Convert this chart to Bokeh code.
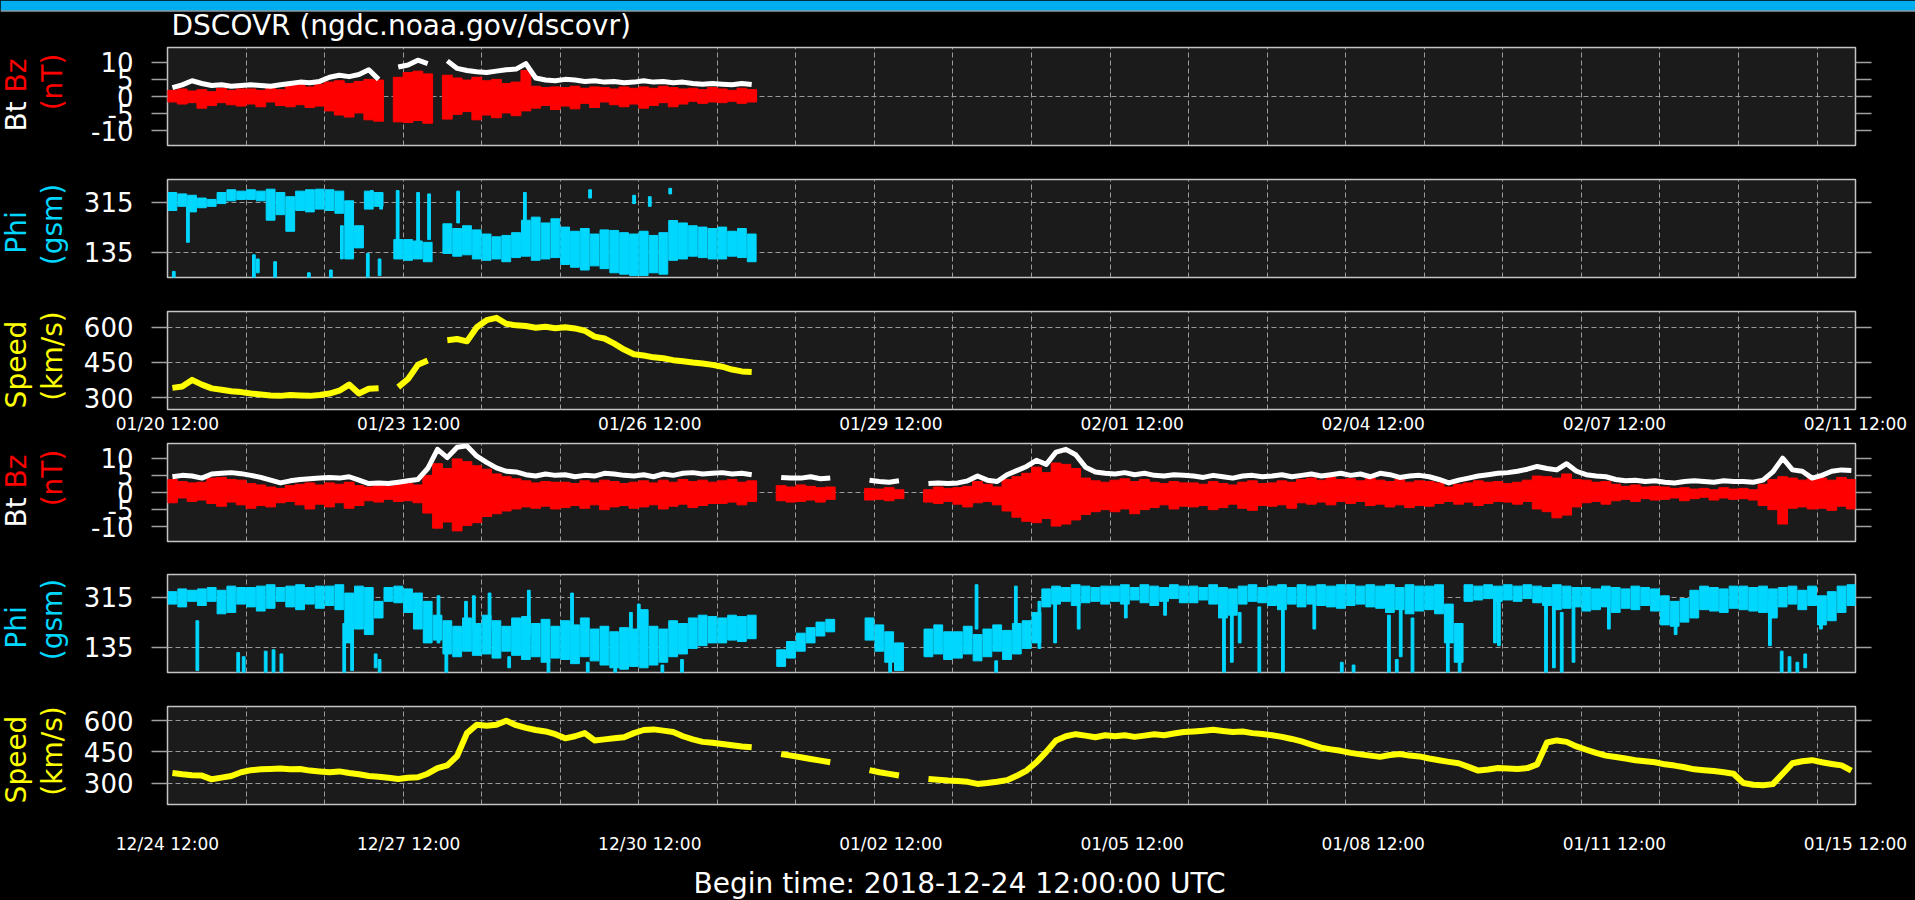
import math
from bokeh.plotting import figure
from bokeh.layouts import column, row
from bokeh.models import Range1d, FixedTicker, LinearAxis, ColumnDataSource
from bokeh.core.properties import value
from bokeh.embed import file_html
from bokeh.resources import INLINE

# ------------------------------------------------------------------ data
# 3-hour sample bins; None = data gap
BIN_DAYS = 0.125

# ---- lower block: begin 2018-12-24 12:00 UTC
bt_dec = [
    4.6, 5.0, 4.8, 4.2, 5.4, 5.6, 5.8, 5.5,
    5.0, 4.4, 3.6, 2.8, 3.4, 3.8, 4.0, 4.2,
    4.4, 4.2, 4.6, 3.6, 2.6, 2.8, 2.6, 3.0,
    3.4, 3.8, 7.0, 12.6, 10.2, 13.2, 13.6, 10.6,
    8.8, 7.2, 6.2, 6.0, 5.2, 4.8, 5.4, 5.0,
    5.2, 4.6, 5.0, 4.8, 5.6, 5.4, 5.0, 4.8,
    5.2, 4.6, 5.4, 5.0, 5.6, 5.8, 5.4, 5.6,
    5.8, 5.4, 5.6, 5.2, None, None, 4.4, 4.2,
    4.2, 4.6, 4.0, 4.2, None, None, None, 3.6,
    3.2, 3.0, 3.4, None, None, 2.6, 2.8, 2.6,
    2.8, 3.4, 4.8, 3.6, 3.2, 5.2, 6.4, 7.6,
    9.4, 8.2, 11.8, 12.6, 11.0, 7.4, 6.0, 5.6,
    5.4, 5.8, 5.2, 5.6, 5.0, 4.8, 5.2, 5.0,
    4.8, 4.4, 5.0, 4.6, 4.2, 4.8, 5.0, 4.6,
    4.8, 5.2, 4.6, 5.0, 5.4, 4.8, 5.2, 5.6,
    5.0, 5.4, 4.6, 5.6, 5.2, 4.4, 4.8, 5.0,
    4.6, 3.8, 2.8, 3.6, 4.2, 4.8, 5.2, 5.6,
    5.8, 6.2, 6.8, 7.6, 7.0, 6.6, 8.4, 6.2,
    5.2, 4.8, 4.6, 3.8, 3.4, 3.6, 3.2, 3.4,
    3.0, 2.8, 3.2, 3.4, 3.2, 3.0, 3.4, 3.2,
    3.2, 3.0, 3.6, 6.0, 10.0, 6.6, 6.2, 4.2,
    5.0, 6.2, 6.6, 6.4,
]
bz_hi_dec = [
    3.8, 3.2, 2.8, 3.0, 4.2, 4.4, 3.8, 3.6,
    2.6, 2.2, 1.6, 1.2, 2.0, 2.4, 2.8, 2.2,
    2.8, 2.4, 3.0, 2.0, 1.6, 2.2, 1.8, 2.4,
    2.6, 2.2, 5.0, 8.4, 7.0, 9.8, 9.0, 7.8,
    6.8, 5.4, 4.6, 4.0, 3.4, 2.8, 3.2, 3.0,
    3.0, 2.6, 3.4, 2.8, 3.6, 3.2, 2.6, 3.0,
    3.4, 2.8, 3.6, 3.0, 3.8, 3.2, 3.6, 3.0,
    3.4, 3.8, 3.0, 3.4, None, None, 2.0, 1.6,
    2.2, 1.8, 1.4, 1.6, None, None, None, 1.2,
    1.0, 1.4, 0.8, None, None, 0.8, 1.6, 1.2,
    1.4, 1.8, 3.2, 2.4, 1.6, 3.8, 4.6, 5.6,
    7.4, 5.8, 8.6, 8.2, 7.0, 4.2, 3.4, 3.0,
    3.6, 4.0, 3.2, 3.8, 3.0, 2.6, 3.2, 2.8,
    2.8, 2.4, 3.2, 2.6, 2.2, 3.0, 3.4, 2.6,
    2.8, 3.4, 3.0, 3.8, 4.2, 3.6, 4.4, 3.8,
    4.0, 3.4, 4.2, 3.6, 3.2, 3.8, 3.0, 3.4,
    3.2, 2.8, 1.6, 2.4, 2.8, 3.4, 3.0, 3.2,
    2.6, 3.0, 3.6, 4.8, 4.6, 4.2, 5.4, 3.8,
    3.6, 3.0, 3.2, 2.4, 1.8, 2.2, 1.6, 1.8,
    1.6, 1.2, 1.4, 1.0, 1.2, 0.8, 1.4, 1.0,
    1.2, 0.8, 2.4, 3.8, 4.6, 4.2, 3.6, 4.0,
    4.2, 3.6, 4.4, 3.8,
]
bz_lo_dec = [
    -3.0, -1.6, -2.6, -2.2, -3.2, -4.0, -2.8, -3.6,
    -4.6, -3.8, -4.2, -3.0, -2.6, -3.6, -4.8, -3.4,
    -4.2, -3.0, -4.6, -3.8, -2.4, -2.8, -2.0, -2.6,
    -2.4, -3.0, -6.0, -10.4, -8.6, -11.2, -9.6, -8.8,
    -7.0, -6.2, -5.4, -4.8, -4.2, -4.6, -4.0, -4.8,
    -4.4, -3.8, -4.6, -3.6, -5.0, -4.2, -3.8, -4.6,
    -4.2, -3.6, -4.8, -4.0, -3.4, -4.4, -3.8, -3.2,
    -3.2, -2.8, -3.6, -2.6, None, None, -2.4, -2.8,
    -2.6, -2.2, -2.8, -2.0, None, None, None, -2.2,
    -2.0, -2.4, -1.8, None, None, -2.8, -3.2, -2.6,
    -3.4, -4.2, -3.0, -2.6, -3.6, -5.4, -7.2, -8.4,
    -8.8, -7.6, -9.8, -9.2, -8.0, -6.4, -5.6, -5.0,
    -5.6, -4.8, -6.2, -5.0, -4.4, -3.6, -4.8, -4.0,
    -4.2, -3.8, -5.0, -4.4, -3.4, -4.6, -5.2, -3.8,
    -4.0, -3.6, -4.6, -3.0, -3.4, -2.8, -3.6, -2.6,
    -3.2, -2.6, -3.8, -3.4, -4.2, -3.6, -4.4, -3.8,
    -4.0, -3.2, -2.6, -3.4, -2.8, -3.8, -3.2, -2.6,
    -2.8, -3.4, -2.6, -4.8, -5.6, -7.4, -6.6, -4.2,
    -3.0, -2.6, -3.4, -2.4, -2.0, -2.6, -1.8, -2.2,
    -2.0, -1.6, -2.4, -1.8, -1.4, -2.2, -1.6, -2.0,
    -1.8, -2.2, -3.8, -5.0, -9.2, -4.6, -4.2, -4.8,
    -4.6, -5.2, -4.0, -4.8,
]
phi_lo_dec = [
    290, 280, 300, 285, 300, 255, 260, 290,
    280, 265, 275, 300, 280, 270, 290, 275,
    285, 270, 150, 200, 180, 240, 300, 295,
    260, 200, 150, 160, 110, 100, 120, 105,
    110, 95, 120, 105, 90, 100, 80, 95,
    90, 75, 100, 85, 70, 60, 55, 65,
    60, 70, 80, 100, 110, 130, 140, 150,
    150, 160, 155, 165, None, None, 65, 95,
    120, 150, 175, 190, None, None, None, 160,
    120, 80, 50, None, None, 100, 110, 90,
    95, 110, 85, 100, 120, 90, 110, 130,
    150, 280, 290, 300, 285, 295, 300, 290,
    300, 290, 305, 295, 285, 300, 310, 295,
    295, 305, 290, 240, 250, 290, 300, 295,
    285, 270, 290, 280, 290, 285, 280, 275,
    285, 290, 280, 275, 260, 270, 255, 265,
    270, 255, 150, 80, 300, 305, 310, 300,
    305, 300, 310, 295, 285, 270, 275, 280,
    265, 270, 280, 260, 275, 270, 285, 265,
    215, 210, 225, 240, 270, 265, 260, 275,
    270, 265, 260, 240, 280, 290, 270, 285,
    215, 230, 260, 285,
]
phi_hi_dec = [
    335, 345, 340, 345, 350, 340, 355, 350,
    350, 355, 360, 350, 355, 360, 350, 355,
    355, 360, 330, 355, 350, 300, 350, 355,
    345, 330, 300, 250, 230, 210, 240, 220,
    250, 230, 210, 240, 245, 220, 235, 210,
    230, 215, 240, 200, 210, 190, 205, 200,
    270, 210, 200, 230, 220, 240, 250, 245,
    240, 250, 245, 250, None, None, 125, 155,
    185, 205, 225, 235, None, None, None, 240,
    215, 190, 150, None, None, 200, 215, 190,
    190, 210, 180, 200, 215, 195, 220, 230,
    260, 345, 355, 350, 360, 355, 350, 355,
    355, 360, 350, 360, 355, 350, 360, 355,
    355, 350, 360, 350, 345, 355, 360, 350,
    355, 360, 350, 360, 355, 360, 355, 360,
    360, 355, 360, 355, 360, 350, 360, 355,
    355, 360, 290, 220, 360, 355, 360, 355,
    360, 355, 360, 355, 350, 360, 355, 350,
    350, 345, 355, 350, 345, 355, 350, 345,
    320, 300, 310, 340, 355, 350, 345, 355,
    355, 350, 355, 345, 350, 355, 340, 355,
    320, 335, 355, 360,
]
phi_streak_day_dec = [0.38, 0.9, 0.97, 1.25, 1.35, 1.45, 2.25, 2.35, 2.65, 2.7, 3.45, 3.55,
                      3.8, 3.9, 4.1, 4.35, 4.6, 4.85, 5.15, 5.35, 5.7, 5.9, 6.0, 6.3, 6.55,
                      9.2, 10.3, 10.55, 10.8, 11.1, 11.3, 11.6, 12.2, 12.7, 13.45, 13.55,
                      13.65, 13.9, 14.2, 14.6, 14.95, 15.1, 15.55, 15.65, 15.7, 15.85,
                      16.3, 16.45, 16.9, 16.95, 17.55, 17.65, 17.75, 17.9, 18.35, 19.2,
                      20.4, 20.55, 20.65, 20.75, 20.85, 21.05]
phi_streak_lo_dec = [50, 40, 40, 40, 40, 40, 40, 50, 60, 40, 150, 40,
                     150, 200, 200, 60, 180, 40, 200, 40, 40, 160, 200, 40, 40,
                     40, 200, 40, 210, 130, 150, 200, 240, 250, 40, 80,
                     150, 40, 40, 200, 40, 40, 40, 40, 100, 40,
                     40, 40, 150, 140, 40, 60, 40, 80, 200, 180,
                     140, 40, 40, 40, 60, 200]
phi_streak_hi_dec = [230, 115, 100, 120, 125, 110, 220, 180, 110, 90, 320, 110,
                     300, 320, 330, 100, 340, 90, 330, 80, 70, 260, 290, 70, 90,
                     80, 360, 85, 355, 300, 290, 300, 300, 300, 300, 290,
                     260, 280, 270, 290, 80, 70, 250, 90, 270, 240,
                     200, 150, 320, 300, 300, 280, 260, 300, 280, 260,
                     300, 120, 100, 80, 110, 260]
speed_dec = [
    348, 342, 338, 336, 318, 326, 334, 352,
    362, 366, 368, 370, 366, 368, 360, 356,
    352, 356, 348, 342, 334, 330, 326, 320,
    326, 328, 345, 372, 385, 430, 540, 580,
    575, 580, 600, 578, 565, 555, 548, 535,
    515, 525, 540, 505, 510, 515, 520, 540,
    555, 558, 552, 545, 525, 510, 498, 494,
    488, 482, 476, 472, None, None, 440, 432,
    424, 416, 408, 400, None, None, None, 362,
    352, 344, 336, None, None, 320, 316, 312,
    310, 306, 296, 300, 306, 314, 335, 360,
    400, 450, 505, 525, 535, 528, 520, 530,
    525, 530, 522, 528, 535, 530, 538, 545,
    548, 552, 556, 550, 545, 548, 540, 536,
    530, 522, 512, 500, 485, 470, 462, 455,
    445, 438, 432, 426, 435, 440, 432, 428,
    418, 410, 402, 395, 378, 360, 365, 372,
    370, 368, 372, 390, 495, 505, 498, 476,
    460, 445, 432, 425, 418, 410, 405, 400,
    390, 384, 376, 366, 362, 358, 352, 345,
    300, 292, 290, 295, 345, 395, 405, 410,
    400, 392, 385, 360,
]

# ---- upper block: begin 2019-01-20 12:00 UTC
bt_jan = [
    2.6, 3.4, 4.6, 3.8, 3.2, 3.4, 3.0, 3.2,
    3.4, 3.2, 3.0, 3.4, 3.8, 4.2, 4.0, 4.4,
    5.6, 6.2, 5.8, 6.4, 7.8, 5.0, None, 8.6,
    9.2, 10.6, 9.6, None, 10.4, 8.2, 7.6, 7.2,
    7.0, 7.4, 7.8, 8.0, 9.6, 5.4, 4.8, 4.6,
    5.0, 4.8, 4.4, 4.6, 4.2, 4.4, 4.0, 4.2,
    4.6, 4.2, 4.4, 4.0, 4.2, 3.8, 3.6, 3.8,
    3.6, 3.4, 3.8, 3.5,
]
bz_hi_jan = [
    1.8, 2.2, 1.6, 2.0, 1.4, 2.4, 1.8, 2.2,
    2.2, 1.8, 2.4, 2.0, 3.2, 3.4, 2.8, 3.6,
    4.2, 4.6, 3.8, 4.4, 5.0, 4.8, None, 5.6,
    7.0, 7.4, 6.6, None, 6.2, 5.4, 4.8, 5.6,
    4.6, 5.0, 3.8, 4.2, 7.6, 3.0, 2.6, 2.8,
    2.6, 3.0, 2.4, 2.8, 2.6, 2.2, 2.8, 2.4,
    2.8, 2.4, 3.0, 2.6, 2.2, 2.4, 2.0, 2.6,
    2.2, 1.8, 2.4, 2.0,
]
bz_lo_jan = [
    -1.6, -2.2, -1.8, -3.4, -2.6, -1.8, -2.4, -2.8,
    -2.2, -3.0, -1.6, -2.6, -3.0, -2.4, -3.2, -2.8,
    -4.2, -5.4, -6.0, -4.8, -6.8, -7.2, None, -7.4,
    -7.6, -7.0, -7.8, None, -6.6, -5.2, -4.4, -6.8,
    -5.4, -6.2, -4.8, -5.6, -4.2, -3.4, -2.6, -3.8,
    -2.8, -3.6, -2.0, -3.2, -1.6, -2.4, -3.0, -2.2,
    -3.4, -2.6, -1.8, -3.0, -2.2, -1.4, -2.0, -1.6,
    -1.8, -1.4, -2.0, -1.6,
]
phi_lo_jan = [
    285, 300, 280, 295, 300, 310, 320, 325,
    325, 320, 250, 270, 210, 285, 280, 290,
    285, 275, 110, 150, 290, 300, None, 110,
    105, 110, 100, None, 130, 120, 125, 110,
    105, 110, 100, 115, 120, 105, 110, 115,
    90, 80, 70, 85, 75, 60, 55, 50,
    50, 60, 55, 105, 110, 120, 115, 110,
    110, 120, 115, 100,
]
phi_hi_jan = [
    350, 345, 340, 330, 325, 350, 360, 355,
    360, 355, 362, 350, 335, 355, 360, 362,
    360, 355, 320, 230, 355, 350, None, 180,
    180, 175, 170, None, 237, 220, 230, 215,
    200, 190, 195, 205, 250, 261, 240, 255,
    225, 210, 220, 200, 215, 213, 205, 200,
    210, 195, 205, 249, 240, 230, 225, 220,
    225, 210, 220, 200,
]
phi_streak_day_jan = [0.08, 0.26, 1.1, 1.15, 1.37, 1.8, 2.08, 2.22, 2.3, 2.55, 2.6, 2.7,
                      2.72, 2.93, 3.19, 3.33, 3.7, 4.55, 5.38, 5.94, 6.14, 6.4]
phi_streak_lo_jan = [40, 170, 40, 60, 40, 40, 40, 110, 120, 40, 300, 50,
                     290, 180, 120, 180, 240, 250, 330, 310, 300, 345]
phi_streak_hi_jan = [65, 300, 125, 110, 100, 60, 70, 230, 260, 130, 357, 110,
                     345, 357, 350, 345, 355, 350, 360, 340, 335, 365]
speed_jan = [
    342, 348, 376, 356, 340, 334, 328, 324,
    318, 314, 310, 308, 312, 310, 308, 312,
    318, 330, 356, 318, 338, 340, None, 345,
    380, 440, 458, None, 545, 550, 540, 600,
    630, 640, 615, 608, 605, 598, 602, 596,
    600, 595, 585, 560, 552, 530, 505, 485,
    480, 472, 468, 460, 455, 450, 446, 440,
    432, 420, 412, 410,
]

# axis ticks and labels
tick_days = [0, 3.07, 6.14, 9.21, 12.28, 15.35, 18.42, 21.49]
labels_jan = ["01/20 12:00", "01/23 12:00", "01/26 12:00", "01/29 12:00",
              "02/01 12:00", "02/04 12:00", "02/07 12:00", "02/11 12:00"]
labels_dec = ["12/24 12:00", "12/27 12:00", "12/30 12:00", "01/02 12:00",
              "01/05 12:00", "01/08 12:00", "01/11 12:00", "01/15 12:00"]
bz_ticks = [-10, -5, 0, 5, 10]
bz_tick_text = ["-10", "-5", "0", "5", "10"]
phi_ticks = [135, 315]
speed_ticks = [300, 450, 600]
title_text = "DSCOVR (ngdc.noaa.gov/dscovr)"
footer_text = "Begin time: 2018-12-24 12:00:00 UTC"

# ------------------------------------------------------------------ style / layout
FONT = "DejaVu Sans"
BG = "black"
PANEL_BG = "#1b1b1b"
OUTLINE = "#c4c4c4"
GRID = "#9a9a9a"
TICK = "#a0a0a0"
RED, WHITE, CYAN, YELLOW = "#ff0000", "#ffffff", "#00d7ff", "#ffff00"
PAGE_W = 1915
CAP_W = 70              # left strip that carries the rotated y captions
PW = PAGE_W - CAP_W     # width of each panel figure
LEFT, RIGHT = 97, 60    # frame from x=167 to x=1855
X_END = 21.49
DAY_GRID = list(range(1, 22))
HEAD_H, MID_TOP, FOOT_H = 44, 44, 38
ROT = math.pi / 2
TEXT_SHIFT = 9          # measured offset of the "alphabetic" baseline in the render
BLACK_CSS = {"background-color": "black"}


def centers(n):
    return [(i + 0.5) * BIN_DAYS for i in range(n)]


def with_nan(vals):
    return [float("nan") if v is None else v for v in vals]


def bar_source(t, lo, hi):
    keep = [i for i in range(len(t)) if lo[i] is not None and hi[i] is not None]
    return ColumnDataSource(dict(t=[t[i] for i in keep],
                                 lo=[lo[i] for i in keep],
                                 hi=[hi[i] for i in keep]))


def style_y(ax):
    ax.major_tick_out = 16
    ax.major_tick_in = 0
    ax.minor_tick_out = 0
    ax.minor_tick_in = 0
    ax.major_tick_line_color = TICK
    ax.major_tick_line_width = 1.5
    ax.axis_line_color = None
    ax.major_label_text_font = FONT
    ax.major_label_text_color = WHITE
    ax.major_label_text_font_size = "26px"
    ax.major_label_standoff = 18


def panel(height, top, bottom, yr, yticks, ygrid, ytext, xlabels=None, standoff=4):
    p = figure(width=PW, height=height, output_backend="svg", toolbar_location=None,
               title=None, x_range=Range1d(0, X_END), y_range=Range1d(*yr),
               x_axis_location="below" if xlabels else None,
               min_border_left=LEFT, min_border_right=RIGHT,
               min_border_top=top, min_border_bottom=bottom,
               background_fill_color=PANEL_BG, border_fill_color=BG,
               outline_line_color=OUTLINE, outline_line_width=1.5,
               styles=BLACK_CSS)
    ya = p.yaxis[0]
    ya.ticker = FixedTicker(ticks=yticks)
    style_y(ya)
    ya.major_label_overrides = {t: s for t, s in zip(yticks, ytext)}
    ra = LinearAxis(ticker=FixedTicker(ticks=yticks))
    style_y(ra)
    ra.major_label_overrides = {t: "" for t in yticks}
    ra.major_label_standoff = 0
    p.add_layout(ra, "right")
    p.xgrid.ticker = FixedTicker(ticks=DAY_GRID)
    p.ygrid.ticker = FixedTicker(ticks=ygrid)
    p.grid.grid_line_color = GRID
    p.grid.grid_line_width = 1
    p.grid.grid_line_dash = "5 3"
    if xlabels:
        xa = p.xaxis[0]
        xa.ticker = FixedTicker(ticks=tick_days)
        xa.major_label_overrides = {t: s for t, s in zip(tick_days, xlabels)}
        xa.major_tick_out = 0
        xa.major_tick_in = 0
        xa.minor_tick_out = 0
        xa.minor_tick_in = 0
        xa.axis_line_color = None
        xa.major_label_text_font = FONT
        xa.major_label_text_font_size = "17px"
        xa.major_label_text_color = WHITE
        xa.major_label_standoff = standoff
    return p


def bz_panel(height, top, bottom, bt, hi, lo):
    p = panel(height, top, bottom, (-14.3, 14.3), bz_ticks, [0], bz_tick_text)
    t = centers(len(bt))
    p.vbar(x="t", top="hi", bottom="lo", width=BIN_DAYS, source=bar_source(t, lo, hi),
           fill_color=RED, line_color=RED, line_width=1)
    p.line(t, with_nan(bt), line_color=WHITE, line_width=5, line_join="round")
    return p


def phi_panel(height, top, bottom, lo, hi, sd, slo, shi):
    p = panel(height, top, bottom, (43, 397), phi_ticks, phi_ticks,
              [str(v) for v in phi_ticks])
    t = centers(len(lo))
    p.vbar(x="t", top="hi", bottom="lo", width=BIN_DAYS * 0.9, source=bar_source(t, lo, hi),
           fill_color=CYAN, line_color=CYAN, line_width=1)
    p.vbar(x=sd, top=shi, bottom=slo, width=0.035, fill_color=CYAN, line_color=CYAN)
    return p


def speed_panel(height, top, bottom, yr, speed, xlabels, standoff):
    p = panel(height, top, bottom, yr, speed_ticks, speed_ticks,
              [str(v) for v in speed_ticks], xlabels, standoff)
    t = centers(len(speed))
    p.line(t, with_nan(speed), line_color=YELLOW, line_width=6, line_join="round")
    return p


def blank(width, height):
    f = figure(width=width, height=height, output_backend="svg", toolbar_location=None,
               title=None, x_axis_location=None, y_axis_location=None, min_border=0,
               x_range=Range1d(0, width), y_range=Range1d(0, height),
               background_fill_color=BG, border_fill_color=BG, outline_line_color=None,
               styles=BLACK_CSS)
    f.grid.visible = False
    return f


# ---- header: page strip + title
head = blank(PAGE_W, HEAD_H)
head.quad(left=[0], right=[PAGE_W], bottom=[HEAD_H - 10], top=[HEAD_H],
          fill_color="#00aeef", line_color=None)
head.quad(left=[0], right=[PAGE_W], bottom=[HEAD_H - 11], top=[HEAD_H - 10],
          fill_color="#cfeefa", line_color=None)
head.text(x=[171], y=[HEAD_H - 34 + TEXT_SHIFT], text=[title_text], text_color=WHITE,
          text_font=value(FONT), text_font_size="28px", text_baseline="alphabetic")

# ---- six panels (heights chosen so frames sit where the reference has them)
p1 = bz_panel(118, 3, 17, bt_jan, bz_hi_jan, bz_lo_jan)
p2 = phi_panel(132, 17, 17, phi_lo_jan, phi_hi_jan,
               phi_streak_day_jan, phi_streak_lo_jan, phi_streak_hi_jan)
p3 = speed_panel(143, 17, 28, (250, 667), speed_jan, labels_jan, 4)
p4 = bz_panel(120, 6, 16, bt_dec, bz_hi_dec, bz_lo_dec)
p5 = phi_panel(133, 17, 18, phi_lo_dec, phi_hi_dec,
               phi_streak_day_dec, phi_streak_lo_dec, phi_streak_hi_dec)
p6 = speed_panel(172, 16, 58, (197, 668), speed_dec, labels_dec, 29)
panels = [p1, p2, p3, p4, p5, p6]
MID_H = sum(pp.height for pp in panels)

# ---- left caption strip (rotated, two lines, coloured like the reference)
cap = blank(CAP_W, MID_H)
frame_tops = [47, 179, 311, 443, 574, 706]   # page y of each panel frame
FH = 98


def cy(page_y):
    return MID_TOP + MID_H - page_y


left_items = []    # (text, colour, x, page_y) -- text starts at page_y and runs upward
mid_items = []     # centred on page_y
for k, ft in enumerate(frame_tops):
    fb = ft + FH
    kind = k % 3
    if kind == 0:
        left_items += [("Bt", WHITE, 16, fb - 14), ("Bz", RED, 16, fb - 53)]
        mid_items += [("(nT)", RED, 52, fb - 63.5)]
    elif kind == 1:
        mid_items += [("Phi", CYAN, 16, fb - 45), ("(gsm)", CYAN, 52, fb - 53)]
    else:
        mid_items += [("Speed", YELLOW, 16, fb - 45), ("(km/s)", YELLOW, 52, fb - 53.5)]

for items, align in ((left_items, "left"), (mid_items, "center")):
    src = ColumnDataSource(dict(x=[i[2] for i in items], y=[cy(i[3]) for i in items],
                                text=[i[0] for i in items], color=[i[1] for i in items]))
    cap.text(x="x", y="y", text="text", text_color="color", source=src, angle=ROT,
             text_align=align, text_baseline="middle", text_font=value(FONT),
             text_font_size="28px")

# ---- footer
foot = blank(PAGE_W, FOOT_H)
foot.text(x=[959], y=[900 - 892 + TEXT_SHIFT], text=[footer_text], text_color=WHITE,
          text_align="center", text_font=value(FONT), text_font_size="28px",
          text_baseline="alphabetic")

mid = row(cap, column(*panels, spacing=0, styles=BLACK_CSS), spacing=0, styles=BLACK_CSS)
p = column(head, mid, foot, spacing=0, styles=BLACK_CSS)
open("out.html", "w").write(file_html(p, INLINE))
